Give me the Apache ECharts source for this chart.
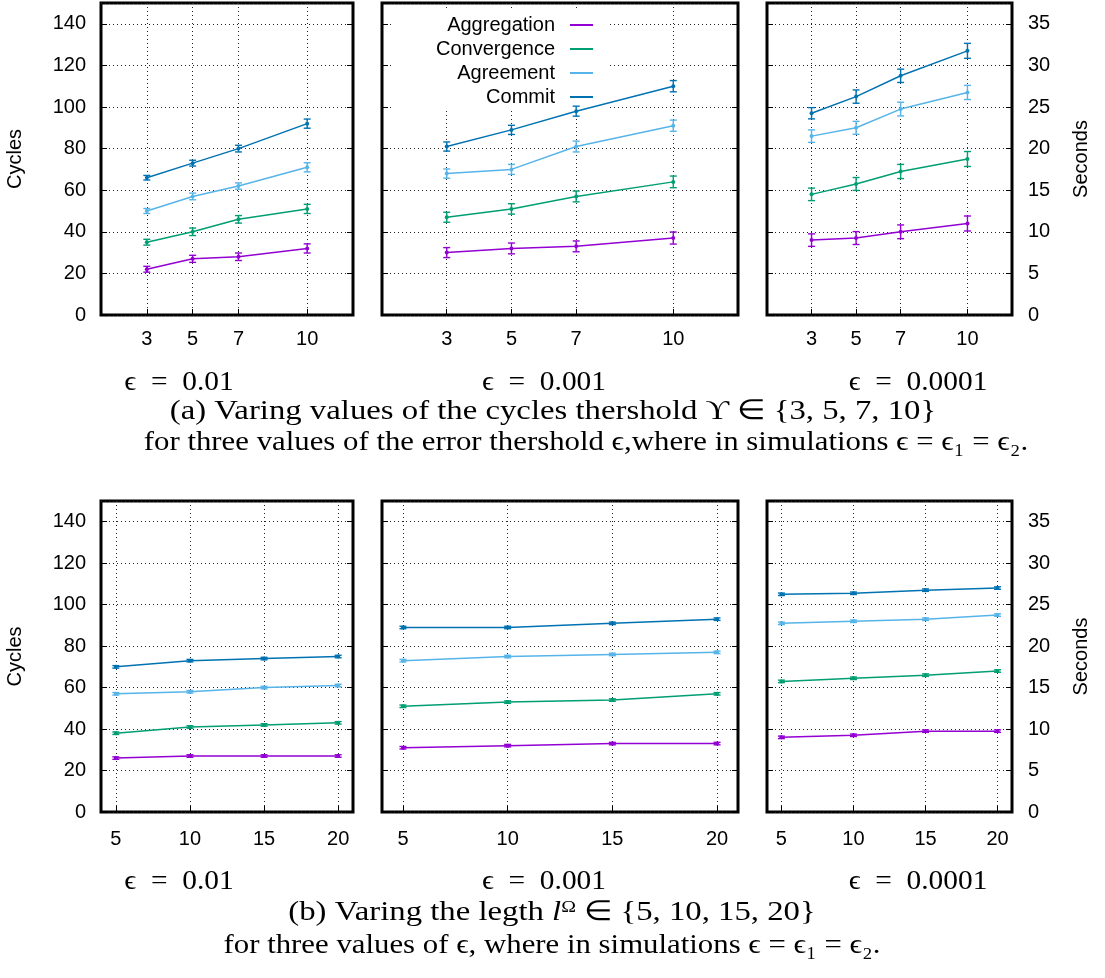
<!DOCTYPE html>
<html>
<head>
<meta charset="utf-8">
<script src="https://cdn.jsdelivr.net/npm/echarts@6/dist/echarts.min.js"></script>
<style>
  html, body { margin: 0; padding: 0; background: #fff; }
  #chart { width: 1105px; height: 978px; }
</style>
</head>
<body>
<div id="chart"></div>
<script>
// ---------------- DATA ----------------
const seriesNames = ['Aggregation', 'Convergence', 'Agreement', 'Commit'];
const xTop = [3, 5, 7, 10];          // cycles threshold Υ
const xBottom = [5, 10, 15, 20];     // length l^Ω
const panelLabels = ['\u03F5\u2002=\u20020.01', '\u03F5\u2002=\u20020.001', '\u03F5\u2002=\u20020.0001'];

// (a) top row, values in cycles (mean) and error (half-length)
const a1Aggregation = [22, 27, 28, 32];
const a1Convergence = [35, 40, 46, 51];
const a1Agreement   = [50, 57, 62, 71];
const a1Commit      = [66, 73, 80, 92];
const a1AggregationErr = [1.4, 1.7, 1.8, 2.2];
const a1ConvergenceErr = [1.4, 1.8, 1.8, 2.2];
const a1AgreementErr   = [1.2, 1.6, 1.5, 2.2];
const a1CommitErr      = [1.1, 1.4, 1.6, 2.2];

const a2Aggregation = [30, 32, 33, 37];
const a2Convergence = [47, 51, 57, 64];
const a2Agreement   = [68, 70, 81, 91];
const a2Commit      = [81, 89, 98, 110];
const a2AggregationErr = [2.4, 2.6, 2.6, 2.9];
const a2ConvergenceErr = [2.4, 2.5, 2.6, 2.8];
const a2AgreementErr   = [2.2, 2.4, 2.6, 2.7];
const a2CommitErr      = [2.2, 2.2, 2.4, 2.7];

const a3Aggregation = [36, 37, 40, 44];
const a3Convergence = [58, 63, 69, 75];
const a3Agreement   = [86, 90, 99, 107];
const a3Commit      = [97, 105, 115, 127];
const a3AggregationErr = [3.0, 3.1, 3.3, 3.6];
const a3ConvergenceErr = [3.0, 3.1, 3.4, 3.6];
const a3AgreementErr   = [3.0, 3.1, 3.3, 3.4];
const a3CommitErr      = [2.7, 3.2, 3.2, 3.6];

// (b) bottom row
const b1Aggregation = [26, 27, 27, 27];
const b1Convergence = [38, 41, 42, 43];
const b1Agreement   = [57, 58, 60, 61];
const b1Commit      = [70, 73, 74, 75];

const b2Aggregation = [31, 32, 33, 33];
const b2Convergence = [51, 53, 54, 57];
const b2Agreement   = [73, 75, 76, 77];
const b2Commit      = [89, 89, 91, 93];

const b3Aggregation = [36, 37, 39, 39];
const b3Convergence = [63, 64.5, 66, 68];
const b3Agreement   = [91, 92, 93, 95];
const b3Commit      = [105, 105.5, 107, 108];

const bErr = [0.6, 0.6, 0.6, 0.6];

// ---------------- STYLE / LAYOUT ----------------
const colors = { Aggregation: '#9400d3', Convergence: '#009e73', Agreement: '#56b4e9', Commit: '#0072b2' };
const grids = [
  { left: 101, top: 3,   width: 252, height: 312 },
  { left: 382, top: 3,   width: 356, height: 312 },
  { left: 767, top: 3,   width: 245, height: 312 },
  { left: 101, top: 501, width: 252, height: 311 },
  { left: 382, top: 501, width: 356, height: 311 },
  { left: 767, top: 501, width: 245, height: 311 }
];
const panelData = [
  { x: xTop, vals: [a1Aggregation, a1Convergence, a1Agreement, a1Commit], errs: [a1AggregationErr, a1ConvergenceErr, a1AgreementErr, a1CommitErr] },
  { x: xTop, vals: [a2Aggregation, a2Convergence, a2Agreement, a2Commit], errs: [a2AggregationErr, a2ConvergenceErr, a2AgreementErr, a2CommitErr] },
  { x: xTop, vals: [a3Aggregation, a3Convergence, a3Agreement, a3Commit], errs: [a3AggregationErr, a3ConvergenceErr, a3AgreementErr, a3CommitErr] },
  { x: xBottom, vals: [b1Aggregation, b1Convergence, b1Agreement, b1Commit], errs: [bErr, bErr, bErr, bErr] },
  { x: xBottom, vals: [b2Aggregation, b2Convergence, b2Agreement, b2Commit], errs: [bErr, bErr, bErr, bErr] },
  { x: xBottom, vals: [b3Aggregation, b3Convergence, b3Agreement, b3Commit], errs: [bErr, bErr, bErr, bErr] }
];

const sansFont = 'Liberation Sans';
const serifFont = 'Liberation Serif';
const dotted = { type: [1, 3], color: '#222', width: 1 };

const xAxes = [], yAxes = [], series = [];

grids.forEach((g, i) => {
  const isTop = i < 3;
  const col = i % 3;
  const xs = isTop ? xTop : xBottom;
  xAxes.push({
    type: 'value', gridIndex: i,
    min: isTop ? 1 : 4, max: isTop ? 12 : 21,
    axisLine: { show: false },
    axisTick: { show: true, inside: true, length: 6, customValues: xs, lineStyle: { color: '#000' } },
    axisLabel: { customValues: xs, fontSize: 20, fontFamily: sansFont, color: '#000', margin: isTop ? 14 : 17 },
    splitLine: { show: true, lineStyle: dotted }
  });
  // left cycles axis
  yAxes.push({
    type: 'value', gridIndex: i, position: 'left', min: 0, max: 150, interval: 20,
    axisLine: { show: false },
    axisTick: { show: true, inside: true, length: 6, lineStyle: { color: '#000' } },
    axisLabel: { show: col === 0, fontSize: 20, fontFamily: sansFont, color: '#000', margin: 15, showMaxLabel: false },
    splitLine: { show: true, lineStyle: dotted },
    name: col === 0 ? 'Cycles' : '', nameLocation: 'middle', nameGap: 76, nameRotate: 90,
    nameTextStyle: { fontSize: 20, fontFamily: sansFont, color: '#000' }
  });
  // right axis (seconds on last column, mirror ticks otherwise)
  if (col === 2) {
    yAxes.push({
      type: 'value', gridIndex: i, position: 'right', min: 0, max: 37.5, interval: 5,
      axisLine: { show: false },
      axisTick: { show: true, inside: true, length: 6, lineStyle: { color: '#000' } },
      axisLabel: { show: true, fontSize: 20, fontFamily: sansFont, color: '#000', margin: 16, showMaxLabel: false },
      splitLine: { show: false },
      name: 'Seconds', nameLocation: 'middle', nameGap: 59, nameRotate: 90,
      nameTextStyle: { fontSize: 20, fontFamily: sansFont, color: '#000' }
    });
  } else {
    yAxes.push({
      type: 'value', gridIndex: i, position: 'right', min: 0, max: 150, interval: 20,
      axisLine: { show: false },
      axisTick: { show: true, inside: true, length: 6, lineStyle: { color: '#000' } },
      axisLabel: { show: false },
      splitLine: { show: false }
    });
  }
  const pd = panelData[i];
  seriesNames.forEach((name, k) => {
    const c = colors[name];
    series.push({
      type: 'line', name, xAxisIndex: i, yAxisIndex: 2 * i,
      data: pd.x.map((x, j) => [x, pd.vals[k][j]]),
      symbol: 'circle', symbolSize: 4, showSymbol: true,
      lineStyle: { color: c, width: 1.5 }, itemStyle: { color: c },
      silent: true, animation: false, z: 6
    });
    series.push({
      type: 'custom', name, xAxisIndex: i, yAxisIndex: 2 * i,
      data: pd.x.map((x, j) => [x, pd.vals[k][j], pd.errs[k][j]]),
      encode: { x: 0, y: 1 },
      itemStyle: { color: c },
      silent: true, animation: false, z: 6,
      renderItem: function (params, api) {
        const x = api.value(0), v = api.value(1), e = api.value(2);
        const t = api.coord([x, v + e]);
        const b = api.coord([x, v - e]);
        const hw = 3.5;
        const st = { stroke: c, lineWidth: 1.4 };
        return {
          type: 'group', children: [
            { type: 'line', shape: { x1: t[0], y1: t[1], x2: b[0], y2: b[1] }, style: st },
            { type: 'line', shape: { x1: t[0] - hw, y1: t[1], x2: t[0] + hw, y2: t[1] }, style: st },
            { type: 'line', shape: { x1: b[0] - hw, y1: b[1], x2: b[0] + hw, y2: b[1] }, style: st }
          ]
        };
      }
    });
  });
});

// captions
const capFont = '28px "' + serifFont + '"';
function capText(text, x, y, sx) {
  return {
    type: 'text', x: x, y: y, silent: true, scaleX: sx || 1,
    style: { text: text, fill: '#000', font: capFont, align: 'center', verticalAlign: 'middle' }
  };
}
const capCentersX = [179, 544, 918];
const graphics = [];
capCentersX.forEach((cx, k) => {
  graphics.push(capText(panelLabels[k], cx, 383, 1.05));
  graphics.push(capText(panelLabels[k], cx, 882, 1.05));
});
graphics.push(capText('(a) Varing values of the cycles thershold \u03D2 \u2208 {3, 5, 7, 10}', 553, 412, 1.17));
graphics.push(capText('for three values of the error thershold \u03F5,where in simulations \u03F5 = \u03F5\u2081 = \u03F5\u2082.', 586, 443, 1.1));
graphics.push({
  type: 'text', x: 552, y: 913, silent: true, scaleX: 1.17,
  style: {
    text: '{n|(b) Varing the legth }{i|l}{s|\u03A9}{n| \u2208 {5, 10, 15, 20}}',
    font: capFont, fill: '#000',
    align: 'center', verticalAlign: 'middle',
    rich: {
      n: { fontFamily: serifFont, fontSize: 28, color: '#000' },
      i: { fontFamily: serifFont, fontSize: 28, fontStyle: 'italic', color: '#000' },
      s: { fontFamily: serifFont, fontSize: 17, color: '#000', verticalAlign: 'top' }
    }
  }
});
graphics.push(capText('for three values of \u03F5, where in simulations \u03F5 = \u03F5\u2081 = \u03F5\u2082.', 552, 946, 1.1));

const chart = echarts.init(document.getElementById('chart'), null, { renderer: 'canvas' });
chart.setOption({
  backgroundColor: '#fff',
  animation: false,
  grid: grids.map(g => Object.assign({ show: true, borderColor: '#000', borderWidth: 3, backgroundColor: 'transparent' }, g)),
  xAxis: xAxes,
  yAxis: yAxes,
  legend: {
    orient: 'vertical', right: 498, top: 8, align: 'right',
    padding: [6, 14, 2, 43], backgroundColor: '#fff',
    icon: 'rect', itemWidth: 23, itemHeight: 2, itemGap: 2,
    selectedMode: false,
    textStyle: { fontSize: 20, fontFamily: sansFont, color: '#000', lineHeight: 22, padding: [0, 10, 0, 0] },
    data: seriesNames.map(n => ({ name: n, itemStyle: { color: colors[n] } }))
  },
  series: series,
  graphic: graphics
});
</script>
</body>
</html>
